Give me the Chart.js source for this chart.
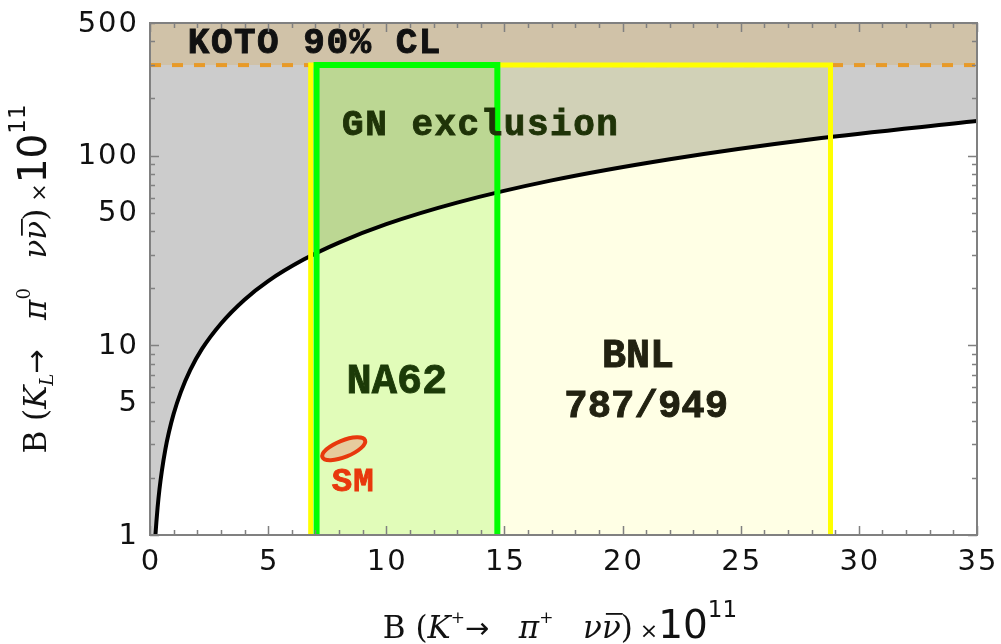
<!DOCTYPE html>
<html>
<head>
<meta charset="utf-8">
<script src="https://cdn.jsdelivr.net/npm/chart.js@4.4.0/dist/chart.umd.min.js"></script>
<style>
    html, body { margin: 0; padding: 0; background: #fff; overflow: hidden; }
</style>
</head>
<body>
<canvas id="grafico" width="1001" height="644"></canvas>
<script>
// Datos
const gnX = [0.23, 0.27, 0.32, 0.4, 0.5, 0.65, 0.8, 1, 1.3, 1.7, 2.2, 3, 4, 5, 6.5, 8, 10, 13, 17, 22, 28, 35];
const gnY = [1.0, 1.17, 1.39, 1.74, 2.17, 2.83, 3.48, 4.35, 5.65, 7.4, 9.57, 13.0, 17.4, 21.8, 28.3, 34.8, 43.5, 56.5, 74, 95.7, 122, 152];
const kotoLimite = 300;
const xRango = [0, 35];
const yRango = [1, 500];
const na62Rango = [7.05, 14.7];
const bnlRango = [6.8, 28.8];
const smCentro = [8.2, 2.85];
const smSemiEje = 0.97;

// Marcas de los ejes
const xTicksMayores = [0, 5, 10, 15, 20, 25, 30, 35];
const xTicksMenores = [1, 2, 3, 4, 6, 7, 8, 9, 11, 12, 13, 14, 16, 17, 18, 19, 21, 22, 23, 24, 26, 27, 28, 29, 31, 32, 33, 34];
const yTicksMayores = [1, 10, 100];
const yTicksMenores = [2, 3, 4, 5, 6, 7, 8, 9, 20, 30, 40, 50, 60, 70, 80, 90, 200, 300, 400, 500];
const xEtiquetas = [0, 5, 10, 15, 20, 25, 30, 35];
const yEtiquetas = [1, 5, 10, 50, 100, 500];

// Puntos de la curva de Grossman-Nir
const gnPuntos = gnX.map((x, i) => ({ x: x, y: gnY[i] }));

// Textos dentro del grafico (posiciones en unidades de datos)
const textos = [
    { t: 'KOTO 90% CL', x: 1.6, y: 347, font: 'bold 36px "Liberation Mono"', esp: '1.5px', color: '#111111', align: 'left' },
    { t: 'GN exclusion', x: 8.13, y: 128, font: 'bold 36px "Liberation Mono"', esp: '1.5px', color: '#1f3308', align: 'left' },
    { t: 'NA62', x: 10.45, y: 5.6, font: 'bold 42px "Liberation Mono"', esp: '0px', color: '#1c3a08', align: 'center' },
    { t: 'BNL', x: 20.65, y: 7.68, font: 'bold 40px "Liberation Mono"', esp: '0px', color: '#222211', align: 'center' },
    { t: '787/949', x: 21.0, y: 4.19, font: 'bold 39px "Liberation Mono"', esp: '0px', color: '#222211', align: 'center' },
    { t: 'SM', x: 8.6, y: 1.71, font: 'bold 34px "Liberation Mono"', esp: '1px', color: '#e8380d', align: 'center' }
];

const serif = '"DejaVu Serif"';
const sans = '"DejaVu Sans"';

const tituloX = [
    { t: 'B', f: '31px ' + serif },
    { t: ' (', f: '31px ' + serif },
    { t: 'K', f: 'italic 31px ' + serif },
    { t: '+', f: '17px ' + serif, dy: -15 },
    { t: '\u2192', f: '29px ' + sans },
    { t: '   ', f: '31px ' + serif },
    { t: '\u03c0', f: 'italic 31px ' + serif },
    { t: '+', f: '17px ' + serif, dy: -15 },
    { t: '   ', f: '31px ' + serif },
    { t: '\u03bd', f: 'italic 31px ' + serif },
    { t: '\u03bd', f: 'italic 31px ' + serif, barra: true },
    { t: ')', f: '31px ' + serif },
    { t: ' \u00d7', f: '22px ' + sans },
    { t: '10', f: '39px ' + sans },
    { t: '11', f: '23px ' + sans, dy: -21 }
];

const tituloY = [
    { t: 'B', f: '31px ' + serif },
    { t: ' (', f: '31px ' + serif },
    { t: 'K', f: 'italic 31px ' + serif },
    { t: 'L', f: 'italic 18px ' + serif, dy: 7 },
    { t: '\u2192', f: '29px ' + sans },
    { t: '   ', f: '31px ' + serif },
    { t: '\u03c0', f: 'italic 31px ' + serif },
    { t: '0', f: '18px ' + serif, dy: -16 },
    { t: '   ', f: '31px ' + serif },
    { t: '\u03bd', f: 'italic 31px ' + serif },
    { t: '\u03bd', f: 'italic 31px ' + serif, barra: true },
    { t: ')', f: '31px ' + serif },
    { t: ' \u00d7', f: '22px ' + sans },
    { t: '10', f: '39px ' + sans },
    { t: '11', f: '23px ' + sans, dy: -21 }
];

// Dibuja un titulo compuesto por partes con distintas fuentes
function dibujarTitulo(ctx, partes, cx, cy, rot) {
    ctx.save();
    ctx.translate(cx, cy);
    ctx.rotate(rot);
    ctx.fillStyle = '#111';
    ctx.textBaseline = 'alphabetic';
    ctx.textAlign = 'left';
    let total = 0;
    partes.forEach(p => {
        ctx.font = p.f;
        p.w = ctx.measureText(p.t).width;
        total += p.w;
    });
    let x = -total / 2;
    partes.forEach(p => {
        ctx.font = p.f;
        ctx.fillText(p.t, x, p.dy || 0);
        if (p.barra) {
            ctx.fillRect(x + 4, -25, p.w - 2, 1.8);
        }
        x += p.w;
    });
    ctx.restore();
}

// Plugin para marcas, etiquetas, elipse SM y textos
const pluginDecoracion = {
    id: 'decoracion',
    afterDatasetsDraw(chart) {
        const ctx = chart.ctx;
        const xs = chart.scales.x;
        const ys = chart.scales.y;

        // Elipse del Modelo Estandar
        const cx = xs.getPixelForValue(smCentro[0]);
        const cy = ys.getPixelForValue(smCentro[1]);
        const rx = xs.getPixelForValue(smCentro[0] + smSemiEje) - cx;
        ctx.save();
        ctx.beginPath();
        ctx.ellipse(cx, cy, rx, rx * 0.36, -0.38, 0, Math.PI * 2);
        ctx.fillStyle = '#e6cc9e';
        ctx.fill();
        ctx.lineWidth = 4;
        ctx.strokeStyle = '#e8380d';
        ctx.stroke();
        ctx.restore();

        // Textos (con un trazo fino para engrosar)
        textos.forEach(tx => {
            ctx.save();
            ctx.font = tx.font;
            ctx.letterSpacing = tx.esp;
            ctx.fillStyle = tx.color;
            ctx.strokeStyle = tx.color;
            ctx.lineWidth = 0.9;
            ctx.textAlign = tx.align;
            ctx.textBaseline = 'alphabetic';
            const px = xs.getPixelForValue(tx.x);
            const py = ys.getPixelForValue(tx.y);
            ctx.fillText(tx.t, px, py);
            ctx.strokeText(tx.t, px, py);
            ctx.restore();
        });
    },
    afterDraw(chart) {
        const ctx = chart.ctx;
        const xs = chart.scales.x;
        const ys = chart.scales.y;
        const a = chart.chartArea;
        ctx.save();
        ctx.strokeStyle = '#808080';
        ctx.lineWidth = 1.5;

        // Marcas hacia adentro en los cuatro lados
        function marcaX(v, largo) {
            const px = Math.round(xs.getPixelForValue(v)) + 0.5;
            ctx.beginPath();
            ctx.moveTo(px, a.bottom); ctx.lineTo(px, a.bottom - largo);
            ctx.moveTo(px, a.top); ctx.lineTo(px, a.top + largo);
            ctx.stroke();
        }
        function marcaY(v, largo) {
            const py = Math.round(ys.getPixelForValue(v)) + 0.5;
            ctx.beginPath();
            ctx.moveTo(a.left, py); ctx.lineTo(a.left + largo, py);
            ctx.moveTo(a.right, py); ctx.lineTo(a.right - largo, py);
            ctx.stroke();
        }
        xTicksMayores.forEach(v => marcaX(v, 9));
        xTicksMenores.forEach(v => marcaX(v, 5));
        yTicksMayores.forEach(v => marcaY(v, 9));
        yTicksMenores.forEach(v => marcaY(v, 5));

        // Marco
        ctx.lineWidth = 2;
        ctx.strokeRect(a.left, a.top, a.right - a.left, a.bottom - a.top);

        // Etiquetas de las marcas
        ctx.fillStyle = '#111';
        ctx.font = '29px ' + sans;
        ctx.letterSpacing = '2px';
        ctx.textAlign = 'center';
        ctx.textBaseline = 'middle';
        xEtiquetas.forEach(v => {
            ctx.fillText(String(v), xs.getPixelForValue(v) + 1, a.bottom + 27);
        });
        ctx.textAlign = 'right';
        yEtiquetas.forEach(v => {
            ctx.fillText(String(v), a.left - 11, ys.getPixelForValue(v) + 1);
        });
        ctx.letterSpacing = '0px';
        ctx.restore();

        // Titulos de los ejes
        dibujarTitulo(ctx, tituloX, 560, 638, 0);
        dibujarTitulo(ctx, tituloY, 46, 279, -Math.PI / 2);
    }
};

const ctx = document.getElementById('grafico').getContext('2d');
const grafico = new Chart(ctx, {
    type: 'scatter',
    data: {
        datasets: [
            {
                // Region excluida por Grossman-Nir (gris)
                data: [{ x: xRango[0], y: yRango[0] }].concat(gnPuntos),
                showLine: true,
                fill: 'end',
                backgroundColor: '#cccccc',
                borderWidth: 0,
                pointRadius: 0,
                cubicInterpolationMode: 'monotone',
                order: 10
            },
            {
                // Limite de KOTO
                data: [{ x: xRango[0], y: kotoLimite }, { x: xRango[1], y: kotoLimite }],
                showLine: true,
                fill: 'end',
                backgroundColor: '#d0c2a8',
                borderColor: '#e89a28',
                borderWidth: 4,
                borderDash: [11, 11],
                pointRadius: 0,
                order: 9
            },
            {
                // Relleno BNL
                data: [{ x: bnlRango[0], y: kotoLimite }, { x: bnlRango[1], y: kotoLimite }],
                showLine: true,
                fill: 'start',
                backgroundColor: 'rgba(255, 255, 0, 0.1)',
                borderWidth: 0,
                pointRadius: 0,
                order: 8
            },
            {
                // Relleno NA62
                data: [{ x: na62Rango[0], y: kotoLimite }, { x: na62Rango[1], y: kotoLimite }],
                showLine: true,
                fill: 'start',
                backgroundColor: 'rgba(105, 240, 5, 0.2)',
                borderWidth: 0,
                pointRadius: 0,
                order: 7
            },
            {
                // Curva de Grossman-Nir
                data: gnPuntos,
                showLine: true,
                fill: false,
                borderColor: '#000000',
                borderWidth: 4,
                pointRadius: 0,
                cubicInterpolationMode: 'monotone',
                order: 6
            },
            {
                // Borde BNL
                data: [
                    { x: bnlRango[0], y: yRango[0] }, { x: bnlRango[0], y: kotoLimite },
                    { x: bnlRango[1], y: kotoLimite }, { x: bnlRango[1], y: yRango[0] }
                ],
                showLine: true,
                fill: false,
                borderColor: '#ffff00',
                borderWidth: 5,
                borderJoinStyle: 'miter',
                pointRadius: 0,
                order: 5
            },
            {
                // Borde NA62
                data: [
                    { x: na62Rango[0], y: yRango[0] }, { x: na62Rango[0], y: kotoLimite },
                    { x: na62Rango[1], y: kotoLimite }, { x: na62Rango[1], y: yRango[0] }
                ],
                showLine: true,
                fill: false,
                borderColor: '#00ff00',
                borderWidth: 6,
                borderJoinStyle: 'miter',
                pointRadius: 0,
                order: 4
            }
        ]
    },
    options: {
        responsive: false,
        devicePixelRatio: 1,
        animation: false,
        layout: { padding: { left: 150, right: 24, top: 23, bottom: 109 } },
        plugins: {
            legend: { display: false },
            tooltip: { enabled: false },
            filler: { drawTime: 'beforeDatasetDraw' }
        },
        scales: {
            x: { type: 'linear', min: xRango[0], max: xRango[1], display: false },
            y: { type: 'logarithmic', min: yRango[0], max: yRango[1], display: false }
        }
    },
    plugins: [pluginDecoracion]
});
</script>
</body>
</html>
